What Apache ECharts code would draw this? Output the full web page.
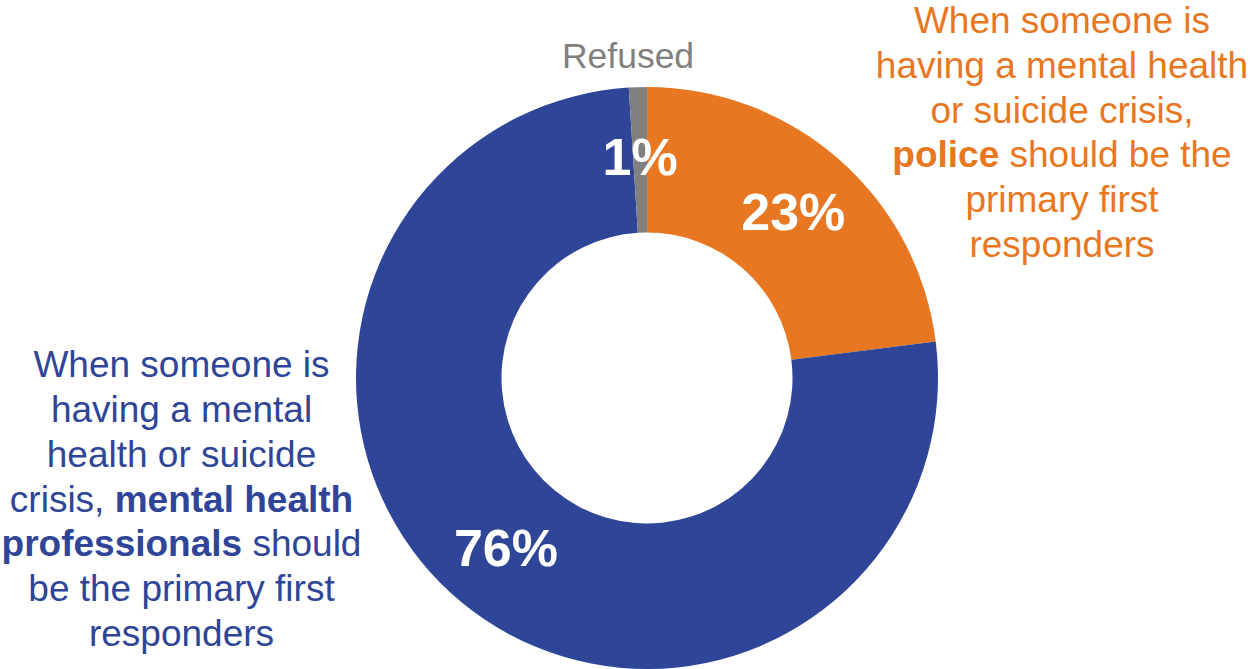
<!DOCTYPE html>
<html>
<head>
<meta charset="utf-8">
<script src="https://cdn.jsdelivr.net/npm/echarts@6/dist/echarts.min.js"></script>
<style>
html, body { margin: 0; padding: 0; background: #ffffff; }
#chart { width: 1255px; height: 669px; }
</style>
</head>
<body>
<div id="chart"></div>
<script>
// Data
var categories = ['Police', 'Mental health professionals', 'Refused'];
var values = [23, 76, 1];
var colors = ['#E87722', '#2E4598', '#808080'];

// Annotation texts (rich: {b|...} is bold)
var policeText = 'When someone is\nhaving a mental health\nor suicide crisis,\n{b|police} should be the\nprimary first\nresponders';
var mhpText = 'When someone is\nhaving a mental\nhealth or suicide\ncrisis, {b|mental health}\n{b|professionals} should\nbe the primary first\nresponders';
var refusedText = 'Refused';

var FONT = "'Liberation Sans', Arial, Helvetica, sans-serif";

var chart = echarts.init(document.getElementById('chart'), null, { renderer: 'svg' });

function richText(text, x, y, color) {
  return {
    type: 'text',
    x: x,
    y: y,
    style: {
      text: text,
      fontFamily: FONT,
      fontSize: 37,
      fill: color,
      align: 'center',
      verticalAlign: 'middle',
      lineHeight: 44.7,
      rich: {
        b: { fontFamily: FONT, fontSize: 37, fontWeight: 'bold', fill: color, lineHeight: 44.7 }
      }
    }
  };
}

var option = {
  backgroundColor: '#ffffff',
  animation: false,
  series: [{
    type: 'pie',
    center: [647, 378],
    radius: [145.5, 291],
    startAngle: 90,
    clockwise: true,
    avoidLabelOverlap: false,
    label: {
      show: true,
      position: 'inside',
      formatter: '{c}%',
      color: '#ffffff',
      fontFamily: FONT,
      fontWeight: 'bold',
      fontSize: 52
    },
    labelLine: { show: false },
    emphasis: { disabled: true },
    data: categories.map(function (c, i) {
      return { name: c, value: values[i], itemStyle: { color: colors[i] } };
    })
  }],
  graphic: [
    richText(policeText, 1062, 132.5, colors[0]),
    richText(mhpText, 181.5, 499, colors[1]),
    {
      type: 'text',
      x: 628,
      y: 55.5,
      style: {
        text: refusedText,
        fontFamily: FONT,
        fontSize: 35.5,
        fill: '#808080',
        align: 'center',
        verticalAlign: 'middle'
      }
    }
  ]
};

chart.setOption(option);
</script>
</body>
</html>
